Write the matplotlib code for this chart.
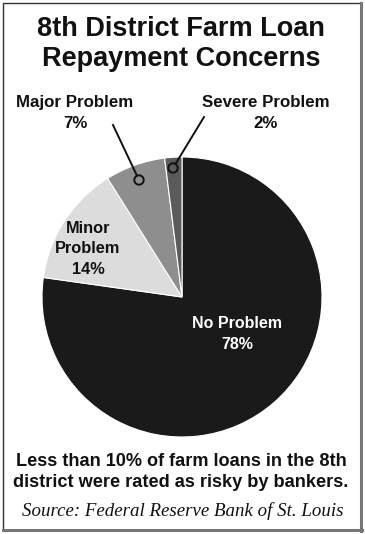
import matplotlib
matplotlib.use("Agg")
import matplotlib.pyplot as plt
from matplotlib.patches import Circle

# Datos del gráfico
categorias = ["No Problem", "Minor Problem", "Major Problem", "Severe Problem"]
porcentajes = [78, 14, 7, 2]
colores = ["#1a1a1a", "#dcdcdc", "#8e8e8e", "#5b5b5b"]

titulo = "8th District Farm Loan\nRepayment Concerns"
nota = "Less than 10% of farm loans in the 8th\ndistrict were rated as risky by bankers."
fuente = "Source: Federal Reserve Bank of St. Louis"

W, H = 365, 534


def px(x, y):
    """Convierte píxeles (desde arriba a la izquierda) a fracción de figura."""
    return x / W, 1 - y / H


fig = plt.figure(figsize=(W / 100, H / 100), dpi=100)
fig.patch.set_facecolor("white")

# Pie: centro (182, 297), radio 140 px
ax = fig.add_axes([42 / W, 97 / H, 280 / W, 280 / H])
wedges, _ = ax.pie(porcentajes, colors=colores, startangle=90, counterclock=False,
                   radius=1.0, wedgeprops=dict(edgecolor="white", linewidth=0.8))
ax.set_xlim(-1, 1)
ax.set_ylim(-1, 1)
ax.set_aspect("equal")
ax.axis("off")

sans = "Liberation Sans"

# Título
fig.text(*px(181, 44.5), titulo, ha="center", va="center", fontsize=19.5,
         fontweight="bold", family=sans, color="#111111", linespacing=1.2)

# Etiquetas de los sectores
fig.text(*px(237, 334), "No Problem\n78%", ha="center", va="center", fontsize=11.5,
         fontweight="bold", family=sans, color="white", linespacing=1.45)
fig.text(*px(88, 249), "Minor\nProblem\n14%", ha="center", va="center", fontsize=11.8,
         fontweight="bold", family=sans, color="#111111", linespacing=1.43)
fig.text(*px(75, 113), "Major Problem\n7%", ha="center", va="center", fontsize=12.2,
         fontweight="bold", family=sans, color="#111111", linespacing=1.48)
fig.text(*px(266, 113), "Severe Problem\n2%", ha="center", va="center", fontsize=12.2,
         fontweight="bold", family=sans, color="#111111", linespacing=1.48)

# Líneas guía con círculos
for (x0, y0), (x1, y1) in [((113, 125), (139, 180)), ((204, 117), (173, 168))]:
    r = 4.7
    dx, dy = x1 - x0, y1 - y0
    d = (dx ** 2 + dy ** 2) ** 0.5
    xe, ye = x1 - dx / d * r, y1 - dy / d * r
    fig.add_artist(plt.Line2D([x0 / W, xe / W], [1 - y0 / H, 1 - ye / H],
                              color="#111111", lw=1.4, transform=fig.transFigure))
    fig.add_artist(Circle((x1, H - y1), r, transform=None, facecolor="none",
                          edgecolor="#111111", lw=1.4))

# Nota y fuente
fig.text(*px(181, 472), nota, ha="center", va="center", fontsize=13.1,
         fontweight="bold", family=sans, color="#111111", linespacing=1.3)
fig.text(*px(183, 511), fuente, ha="center", va="center", fontsize=13.6,
         style="italic", family="Liberation Serif", color="#111111")

# Marco
fig.add_artist(plt.Line2D([3 / W, 3 / W, 360 / W], [1 - 529 / H, 1 - 3 / H, 1 - 3 / H],
                          color="#333333", lw=1.0, transform=fig.transFigure))
fig.add_artist(plt.Line2D([361 / W, 361 / W], [1 - 3 / H, 1 - 531 / H],
                          color="#777777", lw=2.2, transform=fig.transFigure))
fig.add_artist(plt.Line2D([3 / W, 362 / W], [1 - 530 / H, 1 - 530 / H],
                          color="#777777", lw=2.2, transform=fig.transFigure))

fig.savefig("out.png", dpi=100)
